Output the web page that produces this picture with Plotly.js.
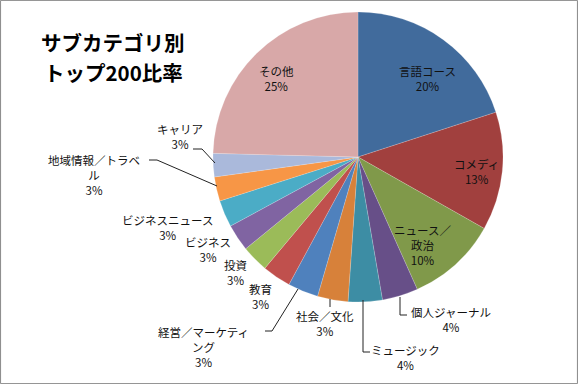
<!DOCTYPE html>
<html><head><meta charset="utf-8">
<script src="https://cdn.plot.ly/plotly-3.0.1.min.js"></script>
<style>html,body{margin:0;padding:0;background:#fff}#c{width:578px;height:384px}</style>
</head><body><div id="c"></div>
<script>
// Data
const labels = ["言語コース","コメディ","ニュース／政治","個人ジャーナル","ミュージック","社会／文化","経営／マーケティング","教育","投資","ビジネス","ビジネスニュース","地域情報／トラベル","キャリア","その他"];
const values = [20.0,13.2,10.1,4.0,3.8,3.4,3.4,3.2,3.0,3.0,3.0,2.7,2.6,24.6];
const colors = ["#416B9C","#A1403E","#80994A","#674F88","#3D8DA4","#D7813A","#4F81BD","#C0504D","#9BBB59","#8064A2","#4BACC6","#F79646","#AAB9DB","#D8A8A8"];
const titleLines = ["サブカテゴリ別","トップ200比率"];

const W = 578, H = 384;
const cx = 358, cy = 157, R = 145;
const px = x => x / W, py = y => 1 - y / H;

// label layout (pixel centers, line break position)
const labelPos = [
  {x:427,y:78,brk:0},
  {x:476,y:171,brk:0},
  {x:422,y:245,brk:5},
  {x:451,y:319,brk:0},
  {x:405,y:357,brk:0},
  {x:325,y:323,brk:0},
  {x:203,y:347,brk:8},
  {x:260,y:296,brk:0},
  {x:235,y:272,brk:0},
  {x:208,y:249,brk:0},
  {x:167,y:227,brk:0},
  {x:94,y:175,brk:8},
  {x:180,y:136,brk:0},
  {x:276,y:78,brk:0}
];
const leaders = [
  null,null,null,
  [[400,297],[400,315],[407,315]],
  [[363,300],[363,352],[370,352]],
  [[330,299],[330,307]],
  [[298,289],[272,331],[265,331]],
  null,null,null,null,
  [[149,160],[157,160],[217,186]],
  [[193,149],[202,149],[215,163]],
  null
];

const total = values.reduce((a,b)=>a+b,0);
const annotations = [];
labels.forEach((lab,i)=>{
  const p = labelPos[i];
  const pct = Math.round(values[i]/total*100) + "%";
  let name = lab;
  if (p.brk) name = lab.slice(0,p.brk) + "<br>" + lab.slice(p.brk);
  annotations.push({
    x: px(p.x), y: py(p.y), xref:"paper", yref:"paper",
    xanchor:"center", yanchor:"middle", align:"center", showarrow:false,
    text: name + "<br>" + pct,
    font:{family:"Noto Sans CJK JP, sans-serif", size:11.5, color:"#111"}
  });
});
titleLines.forEach((t,k)=>{
  annotations.push({
    x: px(113), y: py(42 + k*30), xref:"paper", yref:"paper", xanchor:"center", yanchor:"middle",
    align:"center", showarrow:false, text: "<b>"+t+"</b>",
    font:{family:"Noto Sans CJK JP, sans-serif", size:20.5, color:"#000"}
  });
});

const shapes = [{type:"rect", xref:"paper", yref:"paper", x0:0.001, x1:0.999, y0:0.001, y1:0.999, line:{color:"#888", width:1}}];
leaders.forEach(l=>{
  if (!l) return;
  const d = l.map((p,k)=>(k?"L":"M")+px(p[0])+","+py(p[1])).join(" ");
  shapes.push({type:"path", xref:"paper", yref:"paper", path:d, line:{color:"#222", width:1}});
});

const trace = {
  type:"pie", labels: labels, values: values, sort:false, direction:"clockwise", rotation:0,
  marker:{colors: colors, line:{color:"rgba(255,255,255,0.35)", width:0.5}},
  textinfo:"none", hoverinfo:"none", showlegend:false,
  domain:{x:[(cx-R)/W,(cx+R)/W], y:[(H-cy-R)/H,(H-cy+R)/H]}
};
Plotly.newPlot("c",[trace],{
  width:W, height:H, margin:{l:0,r:0,t:0,b:0}, paper_bgcolor:"#fff",
  annotations: annotations, shapes: shapes, showlegend:false
},{staticPlot:true});
</script></body></html>
